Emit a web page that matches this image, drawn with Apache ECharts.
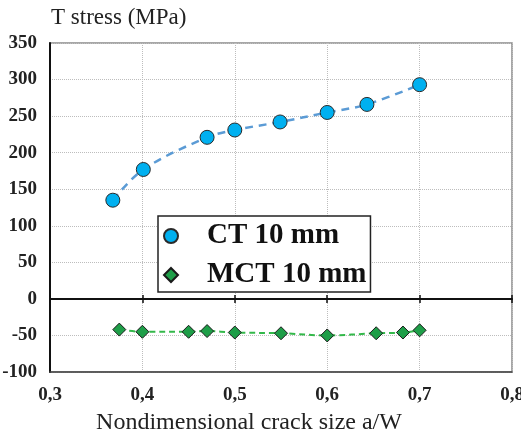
<!DOCTYPE html>
<html><head><meta charset="utf-8">
<script src="https://cdn.jsdelivr.net/npm/echarts@6/dist/echarts.min.js"></script>
<style>html,body{margin:0;padding:0;background:#fff}#c{width:521px;height:437px}</style>
</head><body><div id="c"></div>
<script>
const ctX = [0.368, 0.401, 0.470, 0.500, 0.549, 0.600, 0.643, 0.700];
const ctY = [135, 177, 221, 231, 242, 255, 266, 293];
const mctX = [0.375, 0.400, 0.450, 0.470, 0.500, 0.550, 0.600, 0.653, 0.682, 0.700];
const mctY = [-42, -45, -45, -44, -46, -47, -50, -47, -46, -43];
const xTicks = [0.3, 0.4, 0.5, 0.6, 0.7, 0.8];
const yTicks = [-100, -50, 0, 50, 100, 150, 200, 250, 300, 350];

const serif = "'Liberation Serif','DejaVu Serif',serif";
const pairs = (xs, ys) => xs.map((x, i) => [x, ys[i]]);
const fmtX = v => v.toFixed(1).replace('.', ',');

const chart = echarts.init(document.getElementById('c'), null, {renderer: 'canvas'});
chart.setOption({
  animation: false,
  backgroundColor: '#fff',
  title: {
    text: 'T stress (MPa)', left: 46, top: 1,
    textStyle: {fontFamily: serif, fontSize: 23, fontWeight: 'normal', color: '#222'}
  },
  grid: {left: 50, top: 43, right: 9, bottom: 65, outerBoundsMode: 'none', containLabel: false,
    show: true, borderColor: '#8a8a8a', borderWidth: 1.5, backgroundColor: 'transparent'},
  legend: {
    left: 158, top: 216, orient: 'vertical',
    backgroundColor: '#fff', borderColor: '#222', borderWidth: 1.5,
    padding: [5, 4, 2, 5], itemGap: 9, itemWidth: 14, itemHeight: 14,
    textStyle: {fontFamily: serif, fontSize: 29, fontWeight: 'bold', color: '#111', lineHeight: 30, padding: [0, 0, 0, 24]},
    data: [
      {name: 'CT 10 mm', icon: 'circle'},
      {name: 'MCT 10 mm', icon: 'diamond'}
    ]
  },
  xAxis: [
    {
      type: 'value', min: xTicks[0], max: xTicks[xTicks.length - 1], interval: 0.1,
      position: 'bottom',
      axisLine: {onZero: false, lineStyle: {color: '#444', width: 1.5}},
      axisTick: {show: false},
      axisLabel: {formatter: fmtX, fontFamily: serif, fontSize: 19, fontWeight: 'bold', color: '#222', margin: 14},
      splitLine: {show: true, lineStyle: {color: '#bdbdbd', type: 'dotted', width: 1}},
      name: 'Nondimensional crack size a/W', nameLocation: 'middle', nameGap: 39,
      nameTextStyle: {fontFamily: serif, fontSize: 24, color: '#222', padding: [0, 64, 0, 0]}
    },
    {
      type: 'value', min: xTicks[0], max: xTicks[xTicks.length - 1], interval: 0.1,
      position: 'bottom', gridIndex: 0,
      axisLine: {onZero: true, onZeroAxisIndex: 0, lineStyle: {color: '#111', width: 2}},
      axisTick: {show: true, length: 4, inside: false, lineStyle: {color: '#111', width: 1.5}},
      axisLabel: {show: false}, splitLine: {show: false}
    },
    {
      type: 'value', min: xTicks[0], max: xTicks[xTicks.length - 1], interval: 0.1,
      position: 'bottom', gridIndex: 0,
      axisLine: {show: false, onZero: true, onZeroAxisIndex: 1},
      axisTick: {show: true, length: 4, inside: true, lineStyle: {color: '#111', width: 1.5}},
      axisLabel: {show: false}, splitLine: {show: false}
    }
  ],
  yAxis: [
    {
      type: 'value', min: yTicks[0], max: yTicks[yTicks.length - 1], interval: 50,
      axisLine: {show: true, onZero: false, lineStyle: {color: '#111', width: 2}},
      axisTick: {show: false},
      axisLabel: {fontFamily: serif, fontSize: 19, fontWeight: 'bold', color: '#222', margin: 13},
      splitLine: {show: true, lineStyle: {color: '#bdbdbd', type: 'dotted', width: 1}}
    },
    {
      type: 'value', min: yTicks[0], max: yTicks[yTicks.length - 1], interval: 50,
      position: 'left', axisLine: {show: false}, axisTick: {show: false}, axisLabel: {show: false}, splitLine: {show: false}
    }
  ],
  series: [
    {
      name: 'CT 10 mm', type: 'line', smooth: 0.35, data: pairs(ctX, ctY),
      symbol: 'circle', symbolSize: 14,
      lineStyle: {color: '#5b9bd5', width: 2.5, type: [8, 6]},
      itemStyle: {color: '#00b0f0', borderColor: '#2a2a2a', borderWidth: 1},
      z: 3
    },
    {
      name: 'MCT 10 mm', type: 'line', smooth: 0.35, data: pairs(mctX, mctY),
      symbol: 'diamond', symbolSize: 13,
      lineStyle: {color: '#33b84a', width: 2, type: [6, 4]},
      itemStyle: {color: '#1e9e48', borderColor: '#1a1a1a', borderWidth: 1},
      z: 3
    }
  ]
});
</script></body></html>
